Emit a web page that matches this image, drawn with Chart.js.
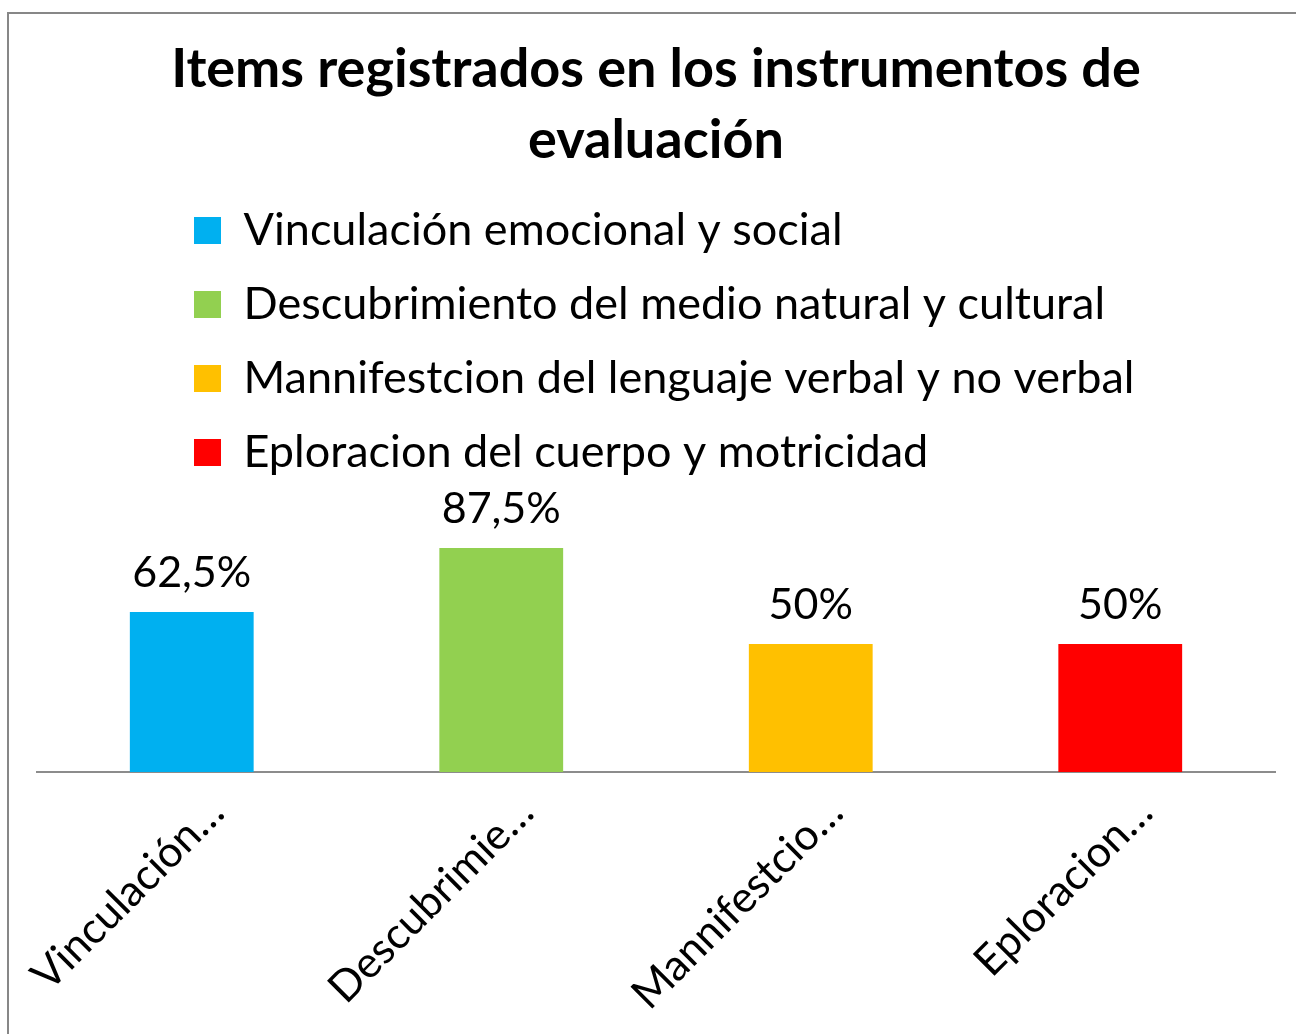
<!DOCTYPE html>
<html><head><meta charset="utf-8">
<script src="https://cdn.jsdelivr.net/npm/chart.js@4.4.0/dist/chart.umd.min.js"></script>
<style>html,body{margin:0;padding:0;background:#fff}#wrap{position:relative;width:1296px;height:1034px}</style>
</head><body><div id="wrap"><canvas id="c" width="1296" height="1034"></canvas></div>
<script>
const titleLines = ["Items registrados en los instrumentos de", "evaluación"];
const categories = [
  "Vinculación emocional y social",
  "Descubrimiento del medio natural y cultural",
  "Mannifestcion del lenguaje verbal y no verbal",
  "Eploracion del cuerpo y motricidad"
];
const tickLabels = ["Vinculación…", "Descubrimie…", "Mannifestcio…", "Eploracion…"];
const values = [62.5, 87.5, 50, 50];
const valueLabels = ["62,5%", "87,5%", "50%", "50%"];
const colors = ["#00B0F0", "#92D050", "#FFC000", "#FF0000"];

const FONT = "Lato";
const frame = {
  id: 'frame',
  beforeDraw(chart) {
    const ctx = chart.ctx;
    ctx.save();
    ctx.fillStyle = '#fff';
    ctx.fillRect(0, 0, chart.width, chart.height);
    ctx.strokeStyle = '#878787';
    ctx.lineWidth = 2;
    ctx.strokeRect(8, 13, chart.width + 100, chart.height + 100);
    ctx.restore();
  }
};
const legendPlace = {
  id: 'legendPlace',
  afterLayout(chart) {
    const lg = chart.legend;
    lg.left += 128;
    lg.top -= 31;
    lg.bottom -= 31;
  }
};
const valueLabelPlugin = {
  id: 'valueLabels',
  afterDatasetsDraw(chart) {
    const ctx = chart.ctx;
    const meta = chart.getDatasetMeta(0);
    ctx.save();
    ctx.font = `43px ${FONT}`;
    ctx.fillStyle = '#000';
    ctx.textAlign = 'center';
    ctx.textBaseline = 'alphabetic';
    meta.data.forEach((bar, i) => {
      ctx.fillText(valueLabels[i], bar.x, bar.y - 25);
    });
    ctx.restore();
  }
};

new Chart(document.getElementById('c'), {
  type: 'bar',
  data: {
    labels: categories,
    datasets: [{
      data: values,
      backgroundColor: colors,
      borderWidth: 0,
      barPercentage: 0.4,
      categoryPercentage: 1.0
    }]
  },
  options: {
    responsive: false,
    animation: false,
    devicePixelRatio: 1,
    layout: { padding: { left: 37, right: 21, top: 0, bottom: 0 } },
    plugins: {
      title: {
        display: true,
        text: titleLines,
        color: '#000',
        font: { family: FONT, size: 54, weight: 'bold', lineHeight: 1.315 },
        padding: { top: 34.5, bottom: 33.5 }
      },
      legend: {
        display: true,
        position: 'top',
        align: 'start',
        labels: {
          color: '#000',
          font: { family: FONT, size: 45 },
          boxWidth: 27,
          boxHeight: 27,
          padding: 29,
          generateLabels: () => categories.map((c, i) => ({
            text: c, fillStyle: colors[i], strokeStyle: colors[i], lineWidth: 0, hidden: false, index: i
          }))
        }
      },
      tooltip: { enabled: false }
    },
    scales: {
      x: {
        grid: { display: false, drawTicks: false },
        border: { display: true, color: '#8c8c8c', width: 2 },
        ticks: {
          color: '#000',
          font: { family: FONT, size: 43 },
          minRotation: 45, maxRotation: 45,
          padding: 15,
          labelOffset: 25,
          autoSkip: false,
          callback: (v, i) => tickLabels[i]
        },
        afterFit: s => { s.height = 262; s.paddingLeft = 0; s.paddingRight = 0; }
      },
      y: { display: false, min: 0, max: 100 }
    }
  },
  plugins: [frame, legendPlace, valueLabelPlugin]
});
</script></body></html>
